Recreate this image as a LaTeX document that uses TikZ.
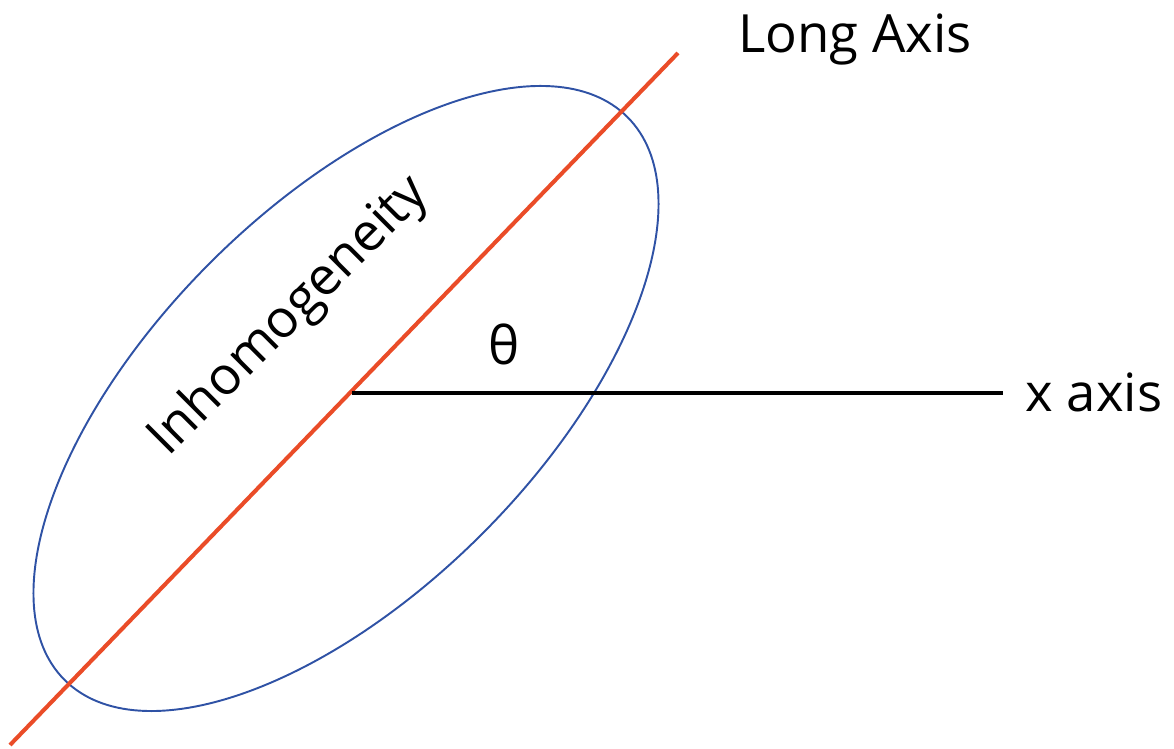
\documentclass[tikz,border=0pt]{standalone}
\usepackage{fontspec}
\setmainfont{Open Sans}
\definecolor{axisred}{RGB}{234,76,40}
\definecolor{incblue}{RGB}{47,82,165}
\begin{document}
\begin{tikzpicture}[x=0.02cm, y=-0.02cm]
    \tikzset{lbl/.style={font=\fontsize{30}{36}\selectfont, inner sep=0pt, anchor=base}}
    \useasboundingbox (0,0) rectangle (1174,749);
    % inhomogeneity outline
    \draw[incblue, line width=1.1pt, rotate around={45:(346,398.5)}] (346,398.5) ellipse [x radius=398, y radius=192];
    \node[lbl, rotate=45] (inhom) at (299.5,326.5) {Inhomogeneity};
    % long axis
    \coordinate (la0) at (10,745);
    \coordinate (la1) at (678,53);
    \draw[axisred, line width=2.3pt] (la0) -- (la1);
    \node[lbl] (longaxis) at (855,53) {Long Axis};
    % x axis
    \coordinate (xa0) at (352,393);
    \coordinate (xa1) at (1003,393);
    \draw[black, line width=2.3pt] (xa0) -- (xa1);
    \node[lbl] (xaxis) at (1094,412) {x axis};
    % angle
    \node[lbl] (theta) at (504,365) {θ};
\end{tikzpicture}
\end{document}
